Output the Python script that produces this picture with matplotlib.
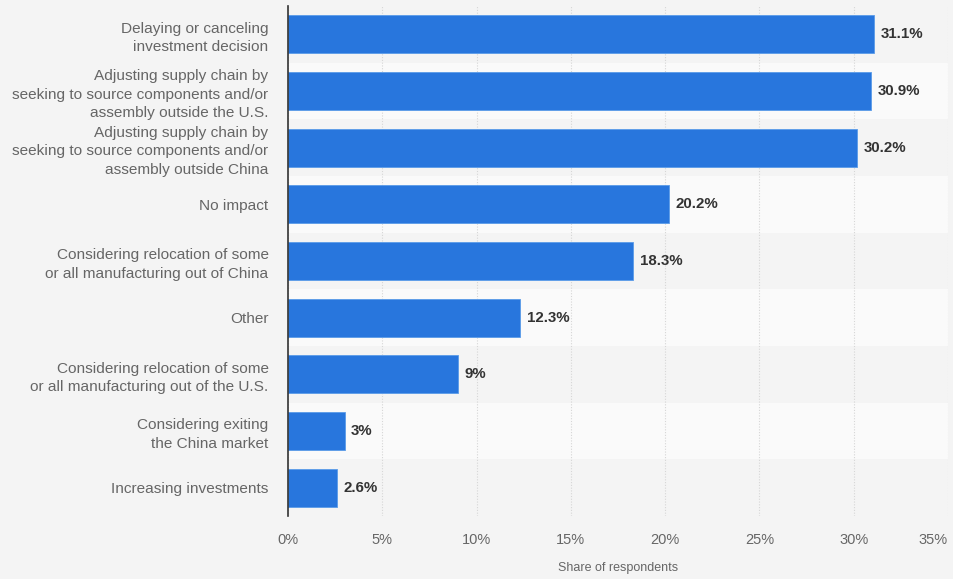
import matplotlib.pyplot as plt
from matplotlib.ticker import FixedLocator, FixedFormatter

plt.rcParams["font.family"] = ["Liberation Sans", "DejaVu Sans"]

categories = [
    "Delaying or canceling\ninvestment decision",
    "Adjusting supply chain by\nseeking to source components and/or\nassembly outside the U.S.",
    "Adjusting supply chain by\nseeking to source components and/or\nassembly outside China",
    "No impact",
    "Considering relocation of some\nor all manufacturing out of China",
    "Other",
    "Considering relocation of some\nor all manufacturing out of the U.S.",
    "Considering exiting\nthe China market",
    "Increasing investments",
]
values = [31.1, 30.9, 30.2, 20.2, 18.3, 12.3, 9, 3, 2.6]
value_labels = ["31.1%", "30.9%", "30.2%", "20.2%", "18.3%", "12.3%", "9%", "3%", "2.6%"]
x_ticks = [0, 5, 10, 15, 20, 25, 30, 35]
x_tick_labels = ["0%", "5%", "10%", "15%", "20%", "25%", "30%", "35%"]

BG = "#f4f4f4"
BAND = "#fafafa"
BLUE = "#2876dd"

fig = plt.figure(figsize=(9.54, 5.79), dpi=100, facecolor=BG)
ax = fig.add_axes([288 / 954, 1 - 516 / 579, 660 / 954, 510 / 579])
ax.set_facecolor(BG)

n = len(categories)
pos = list(range(n))
for i in pos:
    if i % 2 == 1:
        ax.axhspan(i - 0.5, i + 0.5, color=BAND, zorder=0, lw=0)

ax.barh(pos, values, height=0.67, color=BLUE, edgecolor="#5a9be8", linewidth=0.6, zorder=3)
for i, (v, lab) in enumerate(zip(values, value_labels)):
    ax.text(v + 0.35, i, lab, va="center", ha="left", fontsize=10.8,
            fontweight="bold", color="#333333", zorder=4)

ax.set_ylim(n - 0.5, -0.5)
ax.set_xlim(0, 35)
ax.xaxis.set_major_locator(FixedLocator(x_ticks))
ax.xaxis.set_major_formatter(FixedFormatter(x_tick_labels))
ax.set_yticks(pos)
ax.set_yticklabels(categories, fontsize=11.1, color="#666666", linespacing=1.42)
ax.tick_params(axis="x", length=0, pad=12, labelsize=10.5, labelcolor="#666666")
ax.tick_params(axis="y", length=0, pad=14)
ax.grid(axis="x", color="#d6d6d6", linestyle=(0, (1, 1.5)), linewidth=0.8, zorder=1)
for side in ["top", "right", "bottom"]:
    ax.spines[side].set_visible(False)
ax.spines["left"].set_color("#333333")
ax.spines["left"].set_linewidth(1.2)
ax.spines["left"].set_zorder(5)

ax.set_xlabel("Share of respondents", fontsize=9, color="#666666", labelpad=11)

# keep the last tick label inside the figure, as in the source
fig.canvas.draw()
ax.xaxis.get_major_ticks()[-1].label1.set_horizontalalignment("right")

fig.savefig("out.png", dpi=100, facecolor=BG)
